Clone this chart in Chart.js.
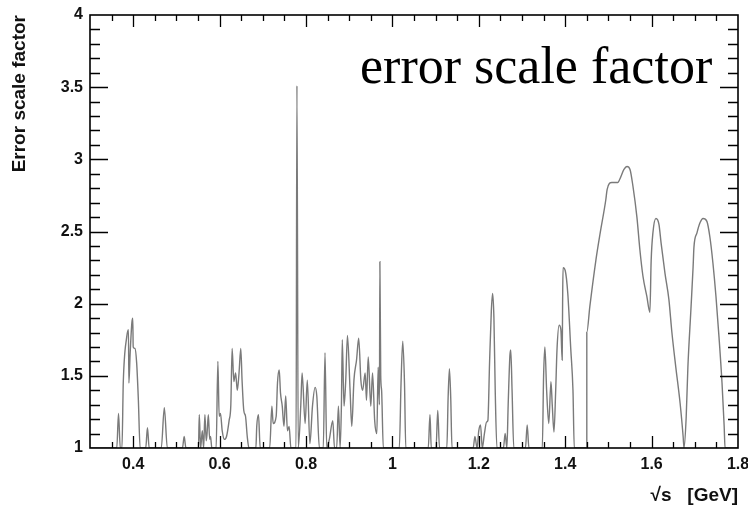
<!DOCTYPE html>
<html>
<head>
<meta charset="utf-8">
<script src="https://cdn.jsdelivr.net/npm/chart.js@4.4.1/dist/chart.umd.min.js"></script>
<style>
html,body{margin:0;padding:0;background:#fff;}
canvas{display:block;}
</style>
</head>
<body>
<canvas id="c" width="748" height="510"></canvas>
<script>
// ---- data ----
const sqrtS = [
 0.300,0.362,0.366,0.370,0.374,0.377,0.385,0.389,0.390,0.393,0.397,0.399,0.400,0.404,0.408,0.412,0.416,
 0.429,0.433,0.437,0.465,0.472,0.479,0.514,0.518,0.522,
 0.551,0.553,0.556,0.560,0.563,0.566,0.569,0.571,0.574,0.577,0.579,0.582,
 0.592,0.596,0.599,0.602,0.606,0.611,0.616,0.622,0.626,0.629,0.633,0.637,0.641,0.645,0.649,0.652,0.656,0.660,0.664,0.668,
 0.684,0.686,0.690,0.694,
 0.716,0.721,0.724,0.731,0.734,0.738,0.741,0.745,0.749,0.753,0.757,0.761,0.765,
 0.777,0.779,0.782,0.788,0.791,0.798,0.803,0.809,0.815,0.821,0.825,0.831,
 0.840,0.844,0.848,0.854,0.862,0.866,0.871,0.875,0.879,0.882,0.884,0.888,0.892,0.896,0.902,0.906,0.911,0.917,0.922,0.927,0.931,0.937,0.940,0.944,0.950,0.954,0.959,0.964,0.967,0.970,0.971,0.973,0.975,0.979,
 1.016,1.020,1.024,1.028,1.031,
 1.083,1.087,1.090,1.101,1.105,1.109,1.126,1.129,1.132,1.135,1.138,
 1.187,1.191,1.196,1.200,1.204,1.208,1.213,1.218,1.221,1.225,1.229,1.232,1.235,1.238,1.242,
 1.257,1.261,1.265,1.268,1.272,1.274,1.277,1.281,
 1.308,1.312,1.316,
 1.347,1.350,1.353,1.357,1.362,1.367,1.370,1.374,1.378,1.381,1.386,1.390,1.393,1.394,1.395,1.400,1.406,1.413,1.418,1.421,
 1.450,1.450,1.457,1.471,1.481,1.494,1.497,1.508,1.522,1.526,1.536,1.543,1.550,1.557,1.566,1.573,1.580,1.589,1.596,
 1.599,1.603,1.610,1.617,1.622,1.631,1.640,1.647,1.656,1.666,1.673,1.675,
 1.680,1.684,1.691,1.696,1.698,1.705,1.712,1.719,1.728,1.735,1.742,1.749,1.756,1.763,1.768,1.770,1.800
];
const errScale = [
 1,1,1.24,1,1,1.45,1.77,1.82,1.45,1.66,1.87,1.90,1.70,1.69,1.59,1.33,1,
 1,1.14,1,1,1.28,1,1,1.08,1,
 1,1.23,1,1.12,1,1.23,1.05,1.10,1.23,1.06,1.08,1,
 1,1.60,1.22,1.24,1.12,1.06,1.08,1.19,1.30,1.69,1.46,1.52,1.40,1.52,1.69,1.47,1.26,1.22,1.08,1,
 1,1.15,1.23,1,
 1,1.29,1.17,1.22,1.45,1.54,1.38,1.29,1.15,1.36,1.12,1.15,1,
 1,3.51,1,1.30,1.52,1.17,1.47,1.03,1.29,1.42,1.36,1,
 1,1.66,1,1.06,1.19,1,1,1.29,1,1.30,1.75,1.29,1.47,1.78,1.40,1.15,1.47,1.61,1.76,1.47,1.40,1.52,1.33,1.63,1.29,1.52,1.19,1.10,1.56,1.30,2.29,1.50,1.40,1,
 1,1.45,1.74,1.45,1,
 1,1.23,1,1,1.26,1,1,1.35,1.55,1.35,1,
 1,1.08,1,1.12,1.16,1,1.10,1.18,1.19,1.60,1.95,2.07,1.90,1.40,1,
 1,1.10,1,1.30,1.64,1.68,1.40,1,
 1,1.16,1,
 1,1.50,1.70,1.40,1.17,1.46,1.30,1.11,1.40,1.68,1.85,1.82,1.61,2.00,2.25,2.23,2.07,1.68,1.40,1,
 1,1.80,1.98,2.30,2.49,2.72,2.79,2.84,2.84,2.86,2.93,2.95,2.93,2.81,2.60,2.37,2.19,2.05,1.94,
 2.30,2.49,2.59,2.55,2.42,2.21,2.03,1.80,1.56,1.31,1.08,1.0,
 1.21,1.56,1.96,2.25,2.39,2.49,2.56,2.59,2.57,2.46,2.28,2.05,1.77,1.45,1.15,1.0,1.0
];
const xTickValues = [0.4,0.6,0.8,1,1.2,1.4,1.6,1.8];
const yTickValues = [1,1.5,2,2.5,3,3.5,4];
const xTitle = '√s   [GeV]';
const yTitle = 'Error scale factor';
const annotation = 'error scale factor';

// ---- frame with inside ticks on all four sides ----
const frameTicks = {
  id: 'frameTicks',
  afterDatasetsDraw(chart) {
    const {ctx, chartArea: {left, right, top, bottom}, scales: {x, y}} = chart;
    ctx.save();
    ctx.strokeStyle = '#000';
    ctx.lineWidth = 1.3;
    // x ticks every 0.05, major every 0.2
    for (let k = 7; k <= 35; k++) {
      const v = k * 0.05;
      const px = Math.round(x.getPixelForValue(v)) + 0.5;
      if (px <= left + 1 || px >= right - 1) continue;
      const major = (k % 4 === 0);
      const len = major ? 12 : 6;
      ctx.beginPath();
      ctx.moveTo(px, bottom); ctx.lineTo(px, bottom - len);
      ctx.moveTo(px, top); ctx.lineTo(px, top + len);
      ctx.stroke();
    }
    // y ticks every 0.1, major every 0.5
    for (let k = 10; k <= 40; k++) {
      const v = k * 0.1;
      const py = Math.round(y.getPixelForValue(v)) + 0.5;
      if (py <= top + 1 || py >= bottom - 1) continue;
      const major = (k % 5 === 0);
      const len = major ? 18 : 10;
      ctx.beginPath();
      ctx.moveTo(left, py); ctx.lineTo(left + len, py);
      ctx.moveTo(right, py); ctx.lineTo(right - len, py);
      ctx.stroke();
    }
    ctx.lineWidth = 1.6;
    ctx.strokeRect(left, top, right - left, bottom - top);
    // annotation text
    ctx.fillStyle = '#000';
    ctx.font = '52px "Liberation Serif", "Times New Roman", serif';
    ctx.textBaseline = 'alphabetic';
    ctx.textAlign = 'left';
    ctx.fillText(annotation, 360, 83);
    ctx.restore();
  }
};

const tickFont = {family: '"Liberation Sans", Arial, sans-serif', size: 16, weight: 'bold'};

new Chart(document.getElementById('c').getContext('2d'), {
  type: 'line',
  data: {
    datasets: [{
      data: sqrtS.map((v, i) => ({x: v, y: errScale[i]})),
      borderColor: '#7a7a7a',
      borderWidth: 1.4,
      pointRadius: 0,
      fill: false,
      cubicInterpolationMode: 'monotone'
    }]
  },
  options: {
    responsive: false,
    animation: false,
    layout: {padding: {left: 0, right: 10, top: 15, bottom: 0}},
    plugins: {legend: {display: false}, tooltip: {enabled: false}},
    scales: {
      x: {
        type: 'linear', min: 0.3, max: 1.8,
        afterBuildTicks: s => { s.ticks = xTickValues.map(v => ({value: v})); },
        afterFit: s => { s.height = 62; s.paddingLeft = 0; s.paddingRight = 0; s.paddingTop = 0; s.paddingBottom = 0; },
        grid: {display: false, drawTicks: false},
        border: {display: false},
        ticks: {padding: 7, font: tickFont, color: '#111', maxRotation: 0, autoSkip: false,
                callback: v => String(v)},
        title: {display: true, text: xTitle, align: 'end', color: '#111',
                padding: {top: 0, bottom: 3},
                font: {family: '"Liberation Sans", Arial, sans-serif', size: 19, weight: 'bold'}}
      },
      y: {
        type: 'linear', min: 1, max: 4,
        afterBuildTicks: s => { s.ticks = yTickValues.map(v => ({value: v})); },
        afterFit: s => { s.width = 90; s.paddingLeft = 0; s.paddingRight = 0; s.paddingTop = 0; s.paddingBottom = 0; },
        grid: {display: false, drawTicks: false},
        border: {display: false},
        ticks: {padding: 7, font: tickFont, color: '#111', autoSkip: false,
                callback: v => String(v)},
        title: {display: true, text: yTitle, align: 'end', color: '#111',
                padding: {top: 8, bottom: 0},
                font: {family: '"Liberation Sans", Arial, sans-serif', size: 19, weight: 'bold'}}
      }
    }
  },
  plugins: [frameTicks]
});
</script>
</body>
</html>
